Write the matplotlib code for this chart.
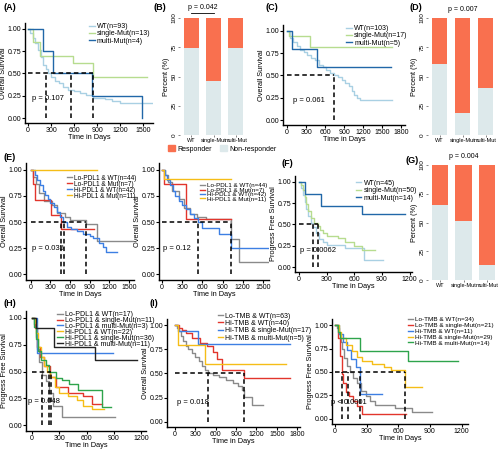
import matplotlib
matplotlib.use("Agg")
import matplotlib.pyplot as plt
from matplotlib.patches import Patch

plt.rcParams['font.family'] = ['Liberation Sans', 'DejaVu Sans']
plt.rcParams['font.size'] = 5

# colours
WT_C, SM_C, MM_C = '#a9d0e3', '#b7dc8f', '#2167a8'
GRAY, RED, BLUE, YEL, GRN, BLK = '#8a8a8a', '#e2352c', '#3d7fe3', '#f5bd17', '#2ea44c', '#222222'
RESP_C, NONR_C = '#f9704f', '#dde9eb'

# ---------------- data ----------------
# (A) OS by mutation group
a_wt_t = [0, 30, 60, 90, 130, 170, 200, 230, 260, 300, 350, 400, 450, 520, 600, 680, 750, 850, 1000, 1100, 1200, 1630]
a_wt_s = [1.0, 0.95, 0.9, 0.84, 0.76, 0.68, 0.6, 0.55, 0.5, 0.46, 0.42, 0.39, 0.35, 0.32, 0.3, 0.28, 0.26, 0.23, 0.21, 0.19, 0.17, 0.17]
a_sm_t = [0, 70, 150, 580, 850, 1550]
a_sm_s = [1.0, 0.85, 0.69, 0.62, 0.46, 0.46]
a_mm_t = [0, 200, 320, 840, 1480, 1480]
a_mm_s = [1.0, 0.75, 0.5, 0.25, 0.0, 0.0]
a_med = [240, 560, 850]

# (B), (D), (G) response by mutation group (non-responder %)
bar_groups = ['WT', 'single-Mut', 'multi-Mut']
b_nonresp = [74, 46, 74]
d_nonresp = [61, 19, 40]
g_nonresp = [65, 51, 13]

# (C)
c_wt_t = [0, 50, 100, 150, 200, 260, 320, 380, 440, 500, 560, 620, 680, 740, 800, 860, 920, 980, 1020, 1060, 1100, 1150, 1650]
c_wt_s = [1.0, 0.92, 0.87, 0.83, 0.79, 0.76, 0.73, 0.7, 0.67, 0.62, 0.59, 0.56, 0.53, 0.5, 0.48, 0.45, 0.42, 0.38, 0.33, 0.28, 0.25, 0.23, 0.23]
c_sm_t = [0, 30, 360, 1650]
c_sm_s = [1.0, 0.94, 0.82, 0.82]
c_mm_t = [0, 75, 477, 1640]
c_mm_s = [1.0, 0.8, 0.6, 0.6]
c_med = [740]

# (E) left
e1_g_t = [0, 40, 80, 130, 200, 330, 400, 520, 600, 840, 1010, 1560]
e1_g_s = [1.0, 0.93, 0.86, 0.78, 0.7, 0.66, 0.59, 0.55, 0.52, 0.48, 0.32, 0.32]
e1_r_t = [0, 40, 70, 315, 465, 960]
e1_r_s = [1.0, 0.86, 0.71, 0.57, 0.43, 0.43]
e1_b_t = [0, 60, 100, 140, 180, 220, 260, 300, 350, 400, 450, 500, 560, 620, 700, 800, 900, 950, 1050, 1100, 1150, 1320]
e1_b_s = [1.0, 0.95, 0.9, 0.85, 0.8, 0.76, 0.72, 0.68, 0.64, 0.6, 0.55, 0.5, 0.45, 0.43, 0.41, 0.39, 0.37, 0.35, 0.3, 0.26, 0.21, 0.21]
e1_y_t = [0, 1010]
e1_y_s = [1.0, 1.0]
e1_med = [465, 510, 840]

# (E) right
e2_g_t = [0, 40, 90, 150, 250, 330, 420, 520, 650, 1025, 1145, 1570]
e2_g_s = [1.0, 0.95, 0.88, 0.8, 0.72, 0.63, 0.58, 0.55, 0.53, 0.34, 0.12, 0.12]
e2_r_t = [0, 30, 360, 1020]
e2_r_s = [1.0, 0.86, 0.53, 0.53]
e2_b_t = [0, 40, 80, 120, 160, 200, 250, 300, 350, 420, 480, 530, 600, 850, 1020, 1570]
e2_b_s = [1.0, 0.95, 0.9, 0.85, 0.8, 0.75, 0.7, 0.66, 0.62, 0.58, 0.54, 0.5, 0.44, 0.39, 0.25, 0.25]
e2_y_t = [0, 30, 1020]
e2_y_s = [1.0, 0.91, 0.91]
e2_med = [530, 1020]

# (F) PFS by mutation group
f_wt_t = [0, 20, 40, 60, 80, 100, 130, 150, 180, 220, 260, 300, 500, 710, 910]
f_wt_s = [1.0, 0.93, 0.84, 0.76, 0.68, 0.6, 0.52, 0.47, 0.4, 0.33, 0.29, 0.26, 0.22, 0.09, 0.09]
f_sm_t = [0, 20, 40, 60, 80, 100, 130, 160, 200, 230, 260, 300, 420, 500, 600, 680, 820]
f_sm_s = [1.0, 0.96, 0.9, 0.82, 0.74, 0.66, 0.58, 0.52, 0.48, 0.44, 0.4, 0.36, 0.34, 0.3, 0.25, 0.2, 0.2]
f_mm_t = [0, 60, 237, 680, 1148]
f_mm_s = [1.0, 0.86, 0.71, 0.62, 0.62]
f_med = [150, 200]

# (H) PFS by PD-L1 and mutation
h_g_t = [0, 20, 40, 60, 80, 110, 150, 190, 230, 330, 910]
h_g_s = [1.0, 0.94, 0.82, 0.71, 0.59, 0.47, 0.41, 0.3, 0.18, 0.08, 0.08]
h_r_t = [0, 30, 60, 90, 130, 200, 260, 400, 560, 660, 770]
h_r_s = [1.0, 0.91, 0.73, 0.64, 0.55, 0.45, 0.36, 0.3, 0.27, 0.2, 0.2]
h_b_t = [0, 54, 893]
h_b_s = [1.0, 0.67, 0.67]
h_y_t = [0, 30, 50, 70, 100, 130, 170, 200, 250, 300, 400, 500, 560, 660, 790]
h_y_s = [1.0, 0.95, 0.86, 0.73, 0.64, 0.55, 0.5, 0.45, 0.36, 0.3, 0.27, 0.23, 0.18, 0.15, 0.15]
h_gr_t = [0, 25, 45, 70, 100, 150, 190, 260, 330, 410, 510, 770, 870]
h_gr_s = [1.0, 0.92, 0.8, 0.69, 0.61, 0.56, 0.5, 0.44, 0.42, 0.38, 0.33, 0.17, 0.17]
h_k_t = [0, 40, 242, 694, 1157]
h_k_s = [1.0, 0.91, 0.73, 0.61, 0.61]
h_med = [108, 188, 206]

# (I) left, OS by TMB and mutation
i1_g_t = [0, 30, 60, 90, 120, 160, 200, 250, 300, 350, 400, 450, 490, 560, 650, 750, 850, 930, 990, 1020, 1130, 1300]
i1_g_s = [1.0, 0.97, 0.94, 0.89, 0.84, 0.79, 0.75, 0.71, 0.67, 0.63, 0.58, 0.54, 0.5, 0.48, 0.46, 0.43, 0.4, 0.37, 0.33, 0.26, 0.17, 0.17]
i1_r_t = [0, 60, 100, 160, 250, 370, 470, 560, 620, 690, 1010, 1690]
i1_r_s = [1.0, 0.97, 0.95, 0.92, 0.87, 0.82, 0.78, 0.72, 0.65, 0.54, 0.45, 0.45]
i1_b_t = [0, 50, 345, 1690]
i1_b_s = [1.0, 0.94, 0.81, 0.81]
i1_y_t = [0, 50, 444, 1630]
i1_y_s = [1.0, 0.8, 0.6, 0.6]
i1_med = [493, 1010]

# (I) right, PFS by TMB and mutation
i2_g_t = [0, 20, 40, 55, 70, 90, 110, 140, 170, 210, 250, 290, 330, 380, 570, 730, 915]
i2_g_s = [1.0, 0.97, 0.91, 0.82, 0.74, 0.65, 0.56, 0.5, 0.44, 0.38, 0.3, 0.24, 0.19, 0.15, 0.12, 0.07, 0.07]
i2_r_t = [0, 25, 45, 63, 80, 100, 130, 170, 210, 260, 670]
i2_r_s = [1.0, 0.86, 0.67, 0.48, 0.38, 0.29, 0.24, 0.19, 0.14, 0.05, 0.05]
i2_b_t = [0, 40, 80, 110, 150, 200, 240, 445]
i2_b_s = [1.0, 0.91, 0.82, 0.73, 0.64, 0.55, 0.27, 0.27]
i2_y_t = [0, 40, 60, 100, 160, 210, 260, 350, 460, 530, 665, 820]
i2_y_s = [1.0, 0.93, 0.86, 0.79, 0.72, 0.66, 0.62, 0.59, 0.55, 0.52, 0.34, 0.34]
i2_gr_t = [0, 30, 47, 237, 695, 1168]
i2_gr_s = [1.0, 0.93, 0.86, 0.72, 0.62, 0.62]
i2_med = [63, 120, 237, 665]

W, H = 500, 450
fig = plt.figure(figsize=(5, 4.5), dpi=100)


def add_ax(x0, y0, x1, y1):
    return fig.add_axes([x0 / W, 1 - y1 / H, (x1 - x0) / W, (y1 - y0) / H])


def km_axes(box, xlim, xticks, ylabel):
    ax = add_ax(*box)
    ax.set_xlim(xlim)
    ax.set_ylim(-0.055, 1.065)
    ax.set_xticks(xticks)
    ax.set_yticks([0, 0.25, 0.5, 0.75, 1.0])
    ax.set_yticklabels(['0.00', '0.25', '0.50', '0.75', '1.00'])
    for s in ['top', 'right']:
        ax.spines[s].set_visible(False)
    for s in ['left', 'bottom']:
        ax.spines[s].set_linewidth(1.0)
    ax.tick_params(length=2, width=0.8, labelsize=5, pad=0.8)
    ax.set_xlabel('Time in Days', fontsize=5.3, labelpad=0)
    ax.set_ylabel(ylabel, fontsize=5.3, labelpad=0.5)
    return ax


def km(ax, t, s, color, label):
    ax.step(t, s, where='post', color=color, lw=1.0, label=label)


def medians(ax, meds):
    ax.plot([0, max(meds)], [0.5, 0.5], color='black', lw=1.1, ls=(0, (3, 2)))
    for m in meds:
        ax.plot([m, m], [0, 0.5], color='black', lw=1.1, ls=(0, (3, 2)))


def km_legend(ax, x, y, spacing=0.05, size=5):
    ax.legend(loc='upper left', bbox_to_anchor=(x, y), frameon=False, fontsize=size,
              handlelength=0.8, handletextpad=0.3, labelspacing=spacing, borderpad=0,
              borderaxespad=0)


def bar_panel(box, nonresp):
    ax = add_ax(*box)
    x = range(len(bar_groups))
    resp = [100 - v for v in nonresp]
    ax.bar(x, nonresp, width=0.68, color=NONR_C)
    ax.bar(x, resp, bottom=nonresp, width=0.68, color=RESP_C)
    ax.set_xlim(-0.5, 2.5)
    ax.set_ylim(0, 100)
    ax.set_xticks(list(x))
    ax.set_xticklabels(bar_groups, fontsize=4.0)
    ax.set_yticks([0, 25, 50, 75, 100])
    ax.set_yticklabels(['0', '25', '50', '75', '100'], rotation=90, va='center', fontsize=4.6)
    for s in ax.spines.values():
        s.set_visible(False)
    ax.tick_params(length=1.5, width=0.5, pad=1, color='#555555')
    ax.set_ylabel('Percent (%)', fontsize=5.2, labelpad=1)
    return ax


# ---------- (A) ----------
ax = km_axes((25, 23, 153, 123), (-40, 1630), [0, 300, 600, 900, 1200, 1500], 'Overall Survival')
km(ax, a_wt_t, a_wt_s, WT_C, 'WT(n=93)')
km(ax, a_sm_t, a_sm_s, SM_C, 'single-Mut(n=13)')
km(ax, a_mm_t, a_mm_s, MM_C, 'multi-Mut(n=4)')
medians(ax, a_med)
ax.text(50, 0.2, 'p = 0.107', fontsize=5.5)
km_legend(ax, 0.5, 1.0)

# ---------- (B) ----------
ax = bar_panel((180, 18, 247, 135), b_nonresp)
ax.plot([0, 1], [104, 104], color='black', lw=0.6, clip_on=False)
ax.text(0.5, 106, 'p = 0.042', ha='center', va='bottom', fontsize=5)
fig.legend(handles=[Patch(color=RESP_C, label='Responder'), Patch(color=NONR_C, label='Non-responder')],
           loc='center left', bbox_to_anchor=(165 / W, 1 - 149 / H), ncol=2, frameon=False,
           fontsize=5, handlelength=1.0, handleheight=0.8, handletextpad=0.3, columnspacing=1.2,
           borderpad=0)

# ---------- (C) ----------
ax = km_axes((283, 25, 405, 125), (-64, 1860), [0, 300, 600, 900, 1200, 1500, 1800], 'Overall Survival')
km(ax, c_wt_t, c_wt_s, WT_C, 'WT(n=103)')
km(ax, c_sm_t, c_sm_s, SM_C, 'single-Mut(n=17)')
km(ax, c_mm_t, c_mm_s, MM_C, 'multi-Mut(n=5)')
medians(ax, c_med)
ax.text(100, 0.2, 'p = 0.061', fontsize=5.5)
km_legend(ax, 0.52, 1.0)

# ---------- (D) ----------
ax = bar_panel((428, 18, 497, 135), d_nonresp)
ax.text(1, 104, 'p = 0.007', ha='center', va='bottom', fontsize=5)

# ---------- (E) ----------
ax = km_axes((26, 163, 134, 280), (-74, 1580), [0, 300, 600, 900, 1200, 1500], 'Overall Survival')
km(ax, e1_g_t, e1_g_s, GRAY, 'Lo-PDL1 & WT(n=44)')
km(ax, e1_r_t, e1_r_s, RED, 'Lo-PDL1 & Mut(n=7)')
km(ax, e1_b_t, e1_b_s, BLUE, 'Hi-PDL1 & WT(n=42)')
km(ax, e1_y_t, e1_y_s, YEL, 'Hi-PDL1 & Mut(n=11)')
medians(ax, e1_med)
ax.text(20, 0.25, 'p = 0.035', fontsize=5.5, va='center')
km_legend(ax, 0.38, 0.9, spacing=-0.15, size=4.7)

ax = km_axes((159, 163, 269, 280), (-45, 1590), [0, 300, 600, 900, 1200, 1500], 'Overall Survival')
km(ax, e2_g_t, e2_g_s, GRAY, 'Lo-PDL1 & WT(n=44)')
km(ax, e2_r_t, e2_r_s, RED, 'Lo-PDL1 & Mut(n=7)')
km(ax, e2_b_t, e2_b_s, BLUE, 'Hi-PDL1 & WT(n=42)')
km(ax, e2_y_t, e2_y_s, YEL, 'Hi-PDL1 & Mut(n=11)')
medians(ax, e2_med)
ax.text(20, 0.25, 'p = 0.12', fontsize=5.5, va='center')
km_legend(ax, 0.37, 0.83, spacing=-0.15, size=4.5)

# ---------- (F) ----------
ax = km_axes((295, 176, 412, 272), (-45, 1227), [0, 300, 600, 900, 1200], 'Progress Free Survival')
km(ax, f_wt_t, f_wt_s, WT_C, 'WT(n=45)')
km(ax, f_sm_t, f_sm_s, SM_C, 'single-Mut(n=50)')
km(ax, f_mm_t, f_mm_s, MM_C, 'multi-Mut(n=14)')
medians(ax, f_med)
ax.text(10, 0.2, 'p = 0.0062', fontsize=5.5, va='center')
km_legend(ax, 0.52, 0.96)

# ---------- (G) ----------
ax = bar_panel((428, 165, 499, 280), g_nonresp)
ax.text(1, 104, 'p = 0.004', ha='center', va='bottom', fontsize=5)

# ---------- (H) ----------
ax = km_axes((26, 311, 146, 431), (-65, 1254), [0, 300, 600, 900, 1200], 'Progress Free Survival')
km(ax, h_g_t, h_g_s, GRAY, 'Lo-PDL1 & WT(n=17)')
km(ax, h_r_t, h_r_s, RED, 'Lo-PDL1 & single-Mut(n=11)')
km(ax, h_b_t, h_b_s, BLUE, 'Lo-PDL1 & multi-Mut(n=3)')
km(ax, h_y_t, h_y_s, YEL, 'Hi-PDL1 & WT(n=22)')
km(ax, h_gr_t, h_gr_s, GRN, 'Hi-PDL1 & single-Mut(n=36)')
km(ax, h_k_t, h_k_s, BLK, 'Hi-PDL1 & multi-Mut(n=11)')
medians(ax, h_med)
ax.text(-45, 0.22, 'p = 0.048', fontsize=5.5, va='center')
km_legend(ax, 0.26, 1.0, spacing=-0.15)

# ---------- (I) ----------
ax = km_axes((167, 319, 300, 427), (-115, 1840), [0, 300, 600, 900, 1200, 1500, 1800], 'Overall Survival')
km(ax, i1_g_t, i1_g_s, GRAY, 'Lo-TMB & WT(n=63)')
km(ax, i1_r_t, i1_r_s, RED, 'Hi-TMB & WT(n=40)')
km(ax, i1_b_t, i1_b_s, BLUE, 'Hi-TMB & single-Mut(n=17)')
km(ax, i1_y_t, i1_y_s, YEL, 'Hi-TMB & multi-Mut(n=5)')
medians(ax, i1_med)
ax.text(25, 0.2, 'p = 0.018', fontsize=5.5, va='center')
km_legend(ax, 0.38, 1.06)

ax = km_axes((332, 319, 468, 424), (-28, 1260), [0, 300, 600, 900, 1200], 'Progress Free Survival')
km(ax, i2_g_t, i2_g_s, GRAY, 'Lo-TMB & WT(n=34)')
km(ax, i2_r_t, i2_r_s, RED, 'Lo-TMB & single-Mut(n=21)')
km(ax, i2_b_t, i2_b_s, BLUE, 'Hi-TMB & WT(n=11)')
km(ax, i2_y_t, i2_y_s, YEL, 'Hi-TMB & single-Mut(n=29)')
km(ax, i2_gr_t, i2_gr_s, GRN, 'Hi-TMB & multi-Mut(n=14)')
medians(ax, i2_med)
ax.text(-40, 0.17, 'p < 0.0001', fontsize=5.5, va='center')
km_legend(ax, 0.56, 1.02, size=4.6)

# panel letters
for lab, x, y in [('(A)', 3, 8), ('(B)', 153, 8), ('(C)', 265, 8), ('(D)', 409, 8),
                  ('(E)', 3, 158), ('(F)', 282, 163), ('(G)', 405, 160),
                  ('(H)', 3, 303), ('(I)', 150, 303)]:
    fig.text(x / W, 1 - y / H, lab, fontsize=6.5, fontweight='bold', va='center')

fig.savefig('out.png', dpi=100)
